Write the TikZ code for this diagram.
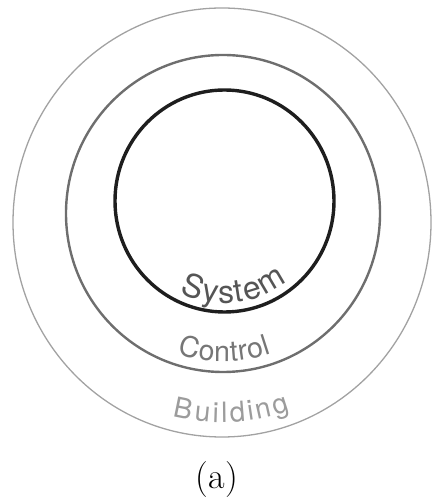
\documentclass[tikz,border=0pt]{standalone}
\usepackage{fontspec}
\usepackage{xcolor}
\usepackage{tikz}
\usetikzlibrary{decorations.text}
\newfontfamily\ringfont{TeX Gyre Heros}
\definecolor{sysline}{HTML}{1E1E1E}
\definecolor{ctrlline}{HTML}{6E6E6E}
\definecolor{bldline}{HTML}{A2A2A2}
\definecolor{systext}{HTML}{555555}
\definecolor{ctrltext}{HTML}{767676}
\definecolor{bldtext}{HTML}{9C9C9C}

\begin{document}
\begin{tikzpicture}[
		x=1pt, y=1pt,
		ring/.style={line width=#1},
		arctext/.style={decorate, decoration={text along path, text align=fit to path, text={#1}}}
		]
		\useasboundingbox (0,0) rectangle (434,500);
		\coordinate (bld) at (222,277.5);
		\coordinate (ctrl) at (223,286.5);
		\coordinate (sys) at (224.5,299);
		% rings
		\draw[ring=1.3pt, bldline] (bld) ellipse[x radius=209, y radius=214.5];
		\draw[ring=2.4pt, ctrlline] (ctrl) ellipse[x radius=157, y radius=158.5];
		\draw[ring=3.4pt, sysline] (sys) ellipse[x radius=109.5, y radius=111];
		% curved labels
		\path[arctext={|\ringfont\fontsize{32}{36}\selectfont\color{systext}|System}]
			([shift={(-116:102)}]sys) arc[start angle=-116, end angle=-52, radius=102];
		\path[arctext={|\ringfont\fontsize{28.5}{32}\selectfont\color{ctrltext}|Control}]
			([shift={(-108:148)}]ctrl) arc[start angle=-108, end angle=-71, radius=148];
		\path[arctext={|\ringfont\fontsize{28}{32}\selectfont\color{bldtext}|Building}]
			([shift={(-104.2:200)}]bld) arc[start angle=-104.2, end angle=-70, radius=200];
		\node[anchor=base, font=\fontsize{36}{40}\selectfont] (caption) at (217,12) {(a)};
\end{tikzpicture}
\end{document}
